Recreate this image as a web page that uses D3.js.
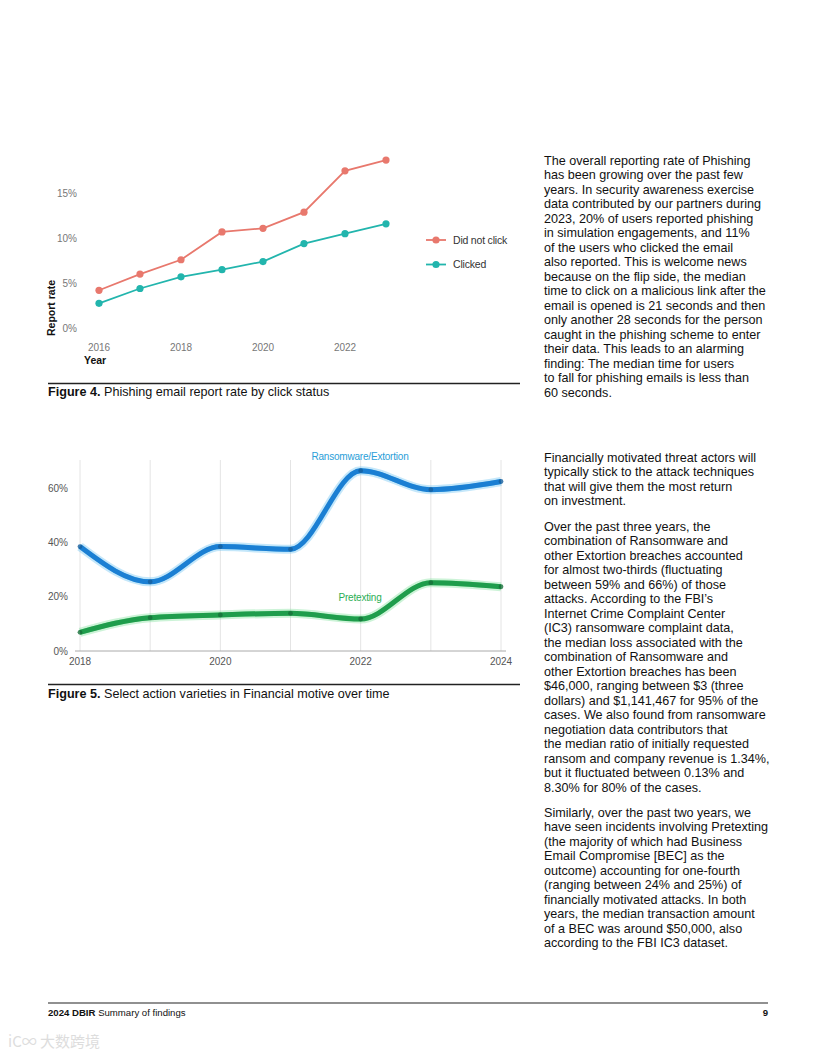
<!DOCTYPE html>
<html>
<head>
<meta charset="utf-8">
<script src="https://cdn.jsdelivr.net/npm/d3@7"></script>
<style>
  body { margin: 0; background: #fff; }
  svg { display: block; font-family: "Liberation Sans", Arial, sans-serif; }
</style>
</head>
<body>
<svg id="page" width="816" height="1056"></svg>
<script>
// ---- Figure 4 data: phishing report rate by click status (%)
const phishYears = [2016, 2017, 2018, 2019, 2020, 2021, 2022, 2023];
const didNotClick = [4.2, 6.0, 7.6, 10.7, 11.1, 12.9, 17.5, 18.7];
const clicked = [2.75, 4.4, 5.7, 6.5, 7.4, 9.4, 10.5, 11.6];
const phishYTicks = [0, 5, 10, 15];
const phishXTicks = [2016, 2018, 2020, 2022];

// ---- Figure 5 data: action varieties in Financial motive (%)
const finYears = [2018, 2019, 2020, 2021, 2022, 2023, 2024];
const ransomware = [38.5, 25.5, 38.5, 37.5, 66.5, 59.5, 62.5];
const pretexting = [6.9, 12.3, 13.3, 13.9, 11.8, 25.2, 23.7];
const finYTicks = [0, 20, 40, 60];
const finXTicks = [2018, 2020, 2022, 2024];

const para1 = [
  "The overall reporting rate of Phishing",
  "has been growing over the past few",
  "years. In security awareness exercise",
  "data contributed by our partners during",
  "2023, 20% of users reported phishing",
  "in simulation engagements, and 11%",
  "of the users who clicked the email",
  "also reported. This is welcome news",
  "because on the flip side, the median",
  "time to click on a malicious link after the",
  "email is opened is 21 seconds and then",
  "only another 28 seconds for the person",
  "caught in the phishing scheme to enter",
  "their data. This leads to an alarming",
  "finding: The median time for users",
  "to fall for phishing emails is less than",
  "60 seconds."
];
const para2 = [
  "Financially motivated threat actors will",
  "typically stick to the attack techniques",
  "that will give them the most return",
  "on investment."
];
const para3 = [
  "Over the past three years, the",
  "combination of Ransomware and",
  "other Extortion breaches accounted",
  "for almost two-thirds (fluctuating",
  "between 59% and 66%) of those",
  "attacks. According to the FBI\u2019s",
  "Internet Crime Complaint Center",
  "(IC3) ransomware complaint data,",
  "the median loss associated with the",
  "combination of Ransomware and",
  "other Extortion breaches has been",
  "$46,000, ranging between $3 (three",
  "dollars) and $1,141,467 for 95% of the",
  "cases. We also found from ransomware",
  "negotiation data contributors that",
  "the median ratio of initially requested",
  "ransom and company revenue is 1.34%,",
  "but it fluctuated between 0.13% and",
  "8.30% for 80% of the cases."
];
const para4 = [
  "Similarly, over the past two years, we",
  "have seen incidents involving Pretexting",
  "(the majority of which had Business",
  "Email Compromise [BEC] as the",
  "outcome) accounting for one-fourth",
  "(ranging between 24% and 25%) of",
  "financially motivated attacks. In both",
  "years, the median transaction amount",
  "of a BEC was around $50,000, also",
  "according to the FBI IC3 dataset."
];

const svg = d3.select("#page");

// ================= Figure 4 =================
const x4 = d3.scaleLinear().domain([2016, 2023]).range([99, 386]);
const y4 = d3.scaleLinear().domain([0, 15]).range([328, 193.3]);

const fig4 = svg.append("g");

fig4.selectAll(".ytick")
  .data(phishYTicks)
  .enter().append("text")
  .attr("x", 77)
  .attr("y", d => y4(d))
  .attr("dy", "0.35em")
  .attr("text-anchor", "end")
  .attr("font-size", "10px")
  .attr("fill", "#777")
  .text(d => d + "%");

fig4.selectAll(".xtick")
  .data(phishXTicks)
  .enter().append("text")
  .attr("x", d => x4(d))
  .attr("y", 347)
  .attr("dy", "0.35em")
  .attr("text-anchor", "middle")
  .attr("font-size", "10px")
  .attr("fill", "#777")
  .text(d => d);

fig4.append("text")
  .attr("x", 84).attr("y", 360).attr("dy", "0.35em")
  .attr("font-size", "10.5px").attr("font-weight", "bold")
  .attr("fill", "#111")
  .text("Year");

fig4.append("text")
  .attr("transform", "translate(51,308) rotate(-90)")
  .attr("dy", "0.35em")
  .attr("text-anchor", "middle")
  .attr("font-size", "10.5px").attr("font-weight", "bold")
  .attr("fill", "#111")
  .text("Report rate");

const phishSeries = [
  { name: "Did not click", values: didNotClick, color: "#e8786d" },
  { name: "Clicked", values: clicked, color: "#22b5ad" }
];

const line4 = d3.line()
  .x((d, i) => x4(phishYears[i]))
  .y(d => y4(d));

phishSeries.forEach((s, k) => {
  fig4.append("path")
    .attr("d", line4(s.values))
    .attr("fill", "none")
    .attr("stroke", s.color)
    .attr("stroke-width", 1.8);
  fig4.selectAll(".pt" + k)
    .data(s.values)
    .enter().append("circle")
    .attr("cx", (d, i) => x4(phishYears[i]))
    .attr("cy", d => y4(d))
    .attr("r", 3.6)
    .attr("fill", s.color);

  // legend
  const ly = 240 + k * 24.5;
  fig4.append("line")
    .attr("x1", 426).attr("x2", 446)
    .attr("y1", ly).attr("y2", ly)
    .attr("stroke", s.color).attr("stroke-width", 1.8);
  fig4.append("circle")
    .attr("cx", 436).attr("cy", ly).attr("r", 3.6)
    .attr("fill", s.color);
  fig4.append("text")
    .attr("x", 453).attr("y", ly).attr("dy", "0.35em")
    .attr("font-size", "10.5px").attr("fill", "#333")
    .attr("letter-spacing", "-0.2px")
    .text(s.name);
});

// caption 4
svg.append("line")
  .attr("x1", 48).attr("x2", 520).attr("y1", 383.5).attr("y2", 383.5)
  .attr("stroke", "#222").attr("stroke-width", 1.4);
const cap4 = svg.append("text")
  .attr("x", 48).attr("y", 395.5)
  .attr("font-size", "12.6px").attr("fill", "#111");
cap4.append("tspan").attr("font-weight", "bold").text("Figure 4.");
cap4.append("tspan").text(" Phishing email report rate by click status");

// ================= Figure 5 =================
const x5 = d3.scaleLinear().domain([2018, 2024]).range([80, 501]);
const y5 = d3.scaleLinear().domain([0, 60]).range([651, 488.3]);

const fig5 = svg.append("g");

fig5.selectAll(".grid")
  .data(finYears)
  .enter().append("line")
  .attr("x1", d => x5(d)).attr("x2", d => x5(d))
  .attr("y1", 460).attr("y2", 651)
  .attr("stroke", "#e4e4e4").attr("stroke-width", 1);

fig5.append("line")
  .attr("x1", 75).attr("x2", 506)
  .attr("y1", y5(0)).attr("y2", y5(0))
  .attr("stroke", "#aaa").attr("stroke-width", 1);

fig5.selectAll(".ytick5")
  .data(finYTicks)
  .enter().append("text")
  .attr("x", 68)
  .attr("y", d => y5(d))
  .attr("dy", "0.35em")
  .attr("text-anchor", "end")
  .attr("font-size", "10px")
  .attr("fill", "#555")
  .text(d => d + "%");

fig5.selectAll(".xtick5")
  .data(finXTicks)
  .enter().append("text")
  .attr("x", d => x5(d))
  .attr("y", 661)
  .attr("dy", "0.35em")
  .attr("text-anchor", "middle")
  .attr("font-size", "10px")
  .attr("fill", "#555")
  .text(d => d);

const finSeries = [
  { name: "Ransomware/Extortion", values: ransomware, main: "#1b7fd3", halo: "#6cc4f2", dot: "#155f9e", label: "#2a9ed8", lx: 360, ly: 456 },
  { name: "Pretexting", values: pretexting, main: "#1f9d4c", halo: "#7fe09a", dot: "#16703a", label: "#2aae55", lx: 360, ly: 597 }
];

const line5 = d3.line()
  .x((d, i) => x5(finYears[i]))
  .y(d => y5(d))
  .curve(d3.curveMonotoneX);

finSeries.forEach((s, k) => {
  // soft halo to suggest the band of resampled lines
  fig5.append("path")
    .attr("d", line5(s.values))
    .attr("fill", "none")
    .attr("stroke", s.halo)
    .attr("stroke-opacity", 0.4)
    .attr("stroke-width", 9);
  [-2, 2].forEach(off => {
    fig5.append("path")
      .attr("d", line5(s.values))
      .attr("transform", `translate(0,${off})`)
      .attr("fill", "none")
      .attr("stroke", s.halo)
      .attr("stroke-width", 1);
  });
  fig5.append("path")
    .attr("d", line5(s.values))
    .attr("fill", "none")
    .attr("stroke", s.main)
    .attr("stroke-width", 5);
  fig5.selectAll(".dot" + k)
    .data(s.values)
    .enter().append("circle")
    .attr("cx", (d, i) => x5(finYears[i]))
    .attr("cy", d => y5(d))
    .attr("r", 2.4)
    .attr("fill", s.dot)
    .attr("fill-opacity", 0.8);
  fig5.append("text")
    .attr("x", s.lx).attr("y", s.ly).attr("dy", "0.35em")
    .attr("text-anchor", "middle")
    .attr("font-size", "10px")
    .attr("fill", s.label)
    .attr("letter-spacing", "-0.2px")
    .text(s.name);
});

// caption 5
svg.append("line")
  .attr("x1", 48).attr("x2", 520).attr("y1", 684.5).attr("y2", 684.5)
  .attr("stroke", "#222").attr("stroke-width", 1.4);
const cap5 = svg.append("text")
  .attr("x", 48).attr("y", 698)
  .attr("font-size", "12.6px").attr("fill", "#111");
cap5.append("tspan").attr("font-weight", "bold").text("Figure 5.");
cap5.append("tspan").text(" Select action varieties in Financial motive over time");

// ================= Body text =================
function paragraph(lines, top) {
  svg.append("g").selectAll("text")
    .data(lines)
    .enter().append("text")
    .attr("x", 544)
    .attr("y", (d, i) => top + i * 14.5)
    .attr("dy", "0.35em")
    .attr("font-size", "12.6px")
    .attr("fill", "#111")
    .text(d => d);
}
paragraph(para1, 160.5);
paragraph(para2, 457.5);
paragraph(para3, 526.5);
paragraph(para4, 812.5);

// ================= Footer =================
svg.append("line")
  .attr("x1", 48).attr("x2", 768).attr("y1", 1003).attr("y2", 1003)
  .attr("stroke", "#222").attr("stroke-width", 1.2);
const foot = svg.append("text")
  .attr("x", 48).attr("y", 1016)
  .attr("font-size", "9.6px").attr("fill", "#111");
foot.append("tspan").attr("font-weight", "bold").text("2024 DBIR");
foot.append("tspan").text(" Summary of findings");
svg.append("text")
  .attr("x", 768).attr("y", 1016)
  .attr("text-anchor", "end")
  .attr("font-size", "9.6px").attr("font-weight", "bold").attr("fill", "#111")
  .text("9");

// watermark
svg.append("text")
  .attr("x", 8).attr("y", 1047)
  .attr("font-size", "15px").attr("fill", "#ddd")
  .attr("font-family", "'Noto Sans CJK SC', sans-serif")
  .text("iC\u221E 大数跨境");
</script>
</body>
</html>
